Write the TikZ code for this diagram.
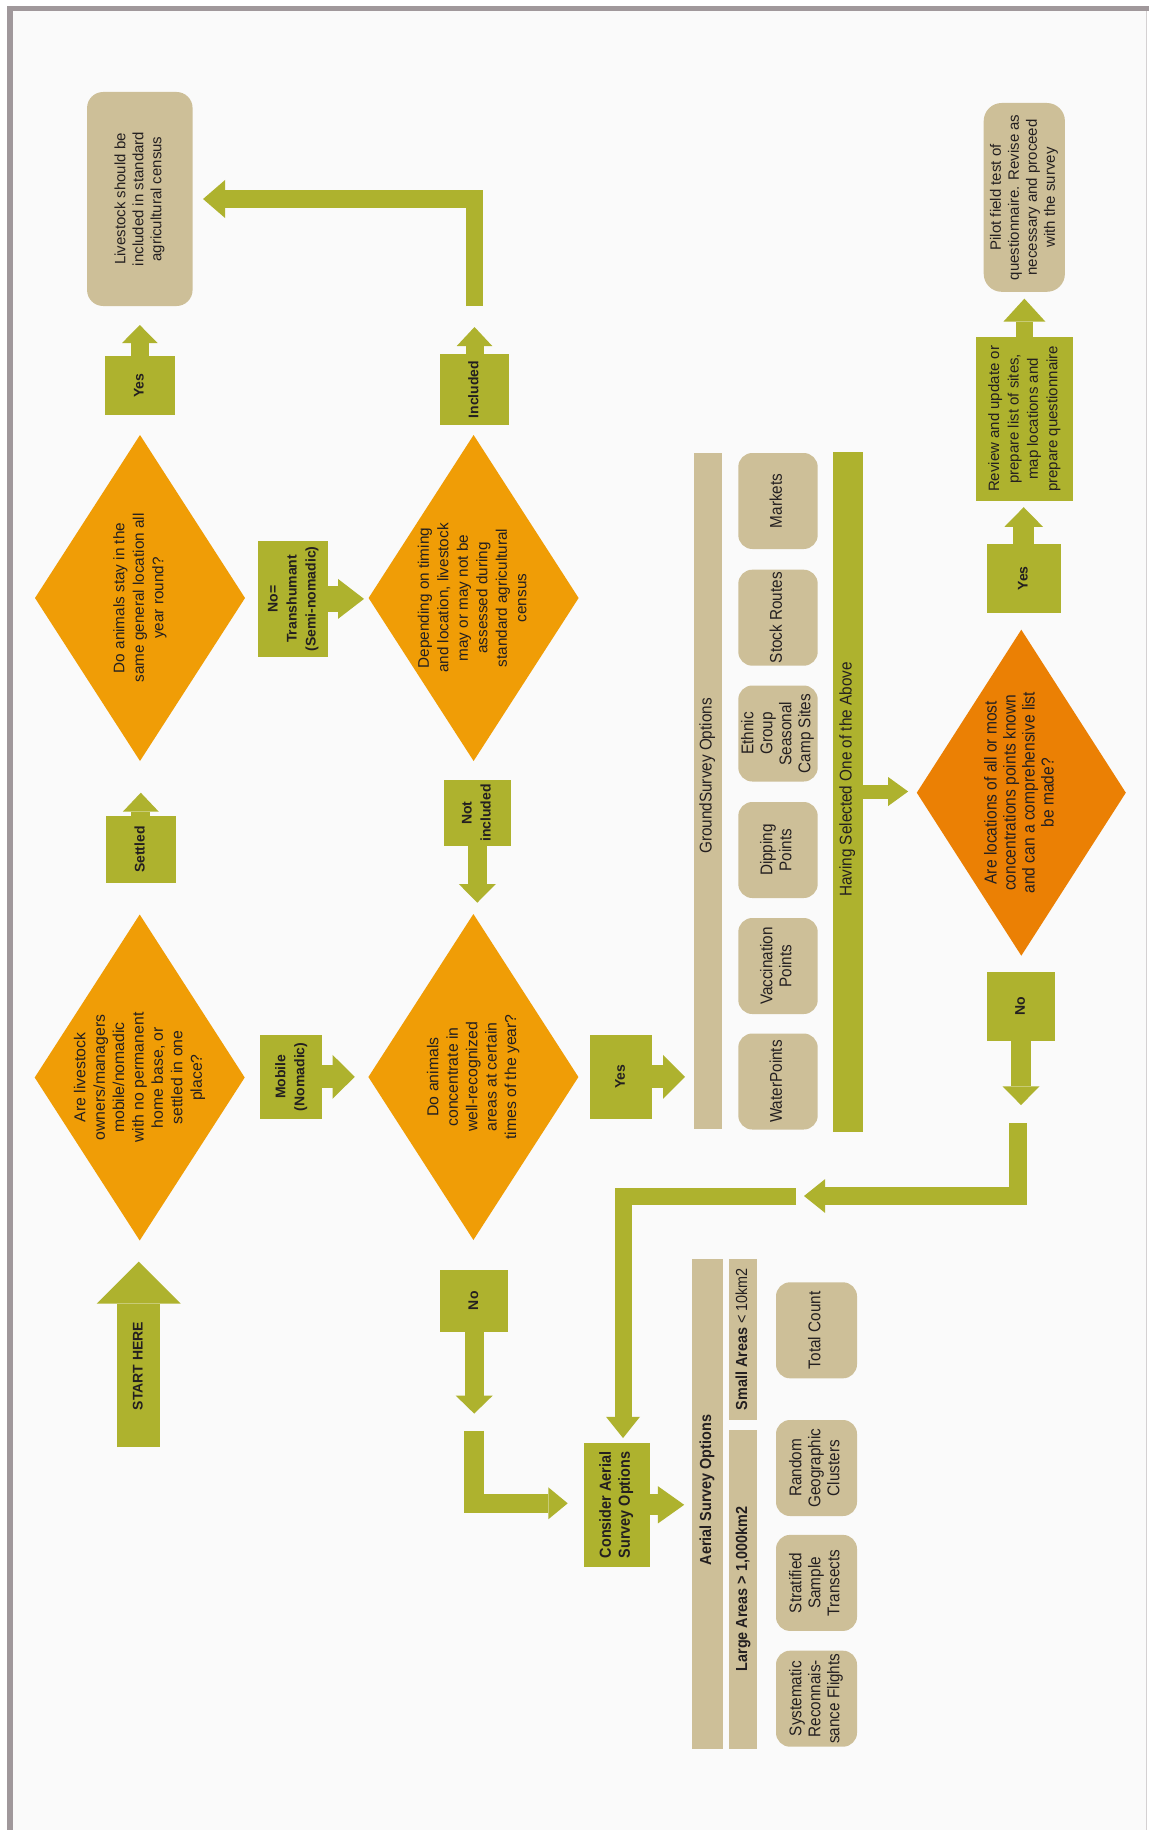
\documentclass[tikz,border=0pt]{standalone}
\usepackage{fontspec}
\usepackage{graphicx}
\setmainfont{Liberation Sans}
\newfontfamily\condensed[FakeStretch=0.9]{Liberation Sans}
\usetikzlibrary{shapes.geometric,arrows.meta,calc}

\definecolor{olivegreen}{RGB}{174,178,46}
\definecolor{amber}{RGB}{240,157,6}
\definecolor{darkamber}{RGB}{235,128,4}
\definecolor{tan}{RGB}{205,191,152}
\definecolor{paper}{RGB}{250,250,250}
\definecolor{framegray}{RGB}{160,152,155}
\definecolor{ink}{RGB}{35,31,32}

% centred lines of text, read from bottom to top
\newcommand\vlines[1]{\rotatebox{90}{\begin{tabular}{@{}c@{}}#1\end{tabular}}}

\begin{document}
\begin{tikzpicture}[x=1pt,y=-1pt,
  every node/.style={inner sep=0pt,outer sep=0pt,text=ink},
  dia/.style={diamond,fill=amber,minimum width=210pt,minimum height=326pt},
  diatext/.style={font=\fontsize{15.3}{19.5}\selectfont},
  gbox/.style={rectangle,fill=olivegreen,font=\bfseries\fontsize{14}{19}\selectfont},
  cbox/.style={rectangle,fill=olivegreen,font=\condensed\bfseries\fontsize{16}{19}\selectfont},
  tbox/.style={rectangle,rounded corners=16pt,fill=tan,font=\fontsize{15}{18}\selectfont},
  optbox/.style={rectangle,rounded corners=14pt,fill=tan,minimum height=96pt,font=\condensed\fontsize{17}{19}\selectfont},
  bar/.style={rectangle,fill=tan},
  barlabel/.style={font=\condensed\fontsize{17}{19}\selectfont},
  boldbarlabel/.style={font=\condensed\bfseries\fontsize{16}{19}\selectfont},
  barrow/.style n args={3}{draw=olivegreen,line width=#1pt,line join=miter,
    -{Triangle[width=#2pt,length=#3pt,line width=0pt]}},
]
\useasboundingbox (0,0) rectangle (1149,1830);

% page and frame
\fill[white] (0,0) rectangle (1149,1830);
\fill[paper] (13,11) rectangle (1146,1830);
\fill[framegray] (7,6) rectangle (1149,11);
\fill[framegray] (7,6) rectangle (13,1830);
\draw[framegray!45,line width=1pt] (1146,11) -- (1146,1830);

% ---------- first column ----------
\node[tbox,minimum width=105.5pt,minimum height=214pt] (live) at (139.8,199)
  {\vlines{Livestock should be\\included in standard\\agricultural census}};
\node[gbox,minimum width=69.6pt,minimum height=59pt] (yes1) at (139.8,385.5) {\vlines{Yes}};
\node[dia] (d1) at (140,598) {};
\node[diatext] (d1t) at (d1)
  {\vlines{Do animals stay in the\\same general location all\\year round?}};
\node[gbox,minimum width=70pt,minimum height=67pt] (settled) at (140.8,849.5) {\vlines{Settled}};
\node[dia] (d3) at (139.7,1077.5) {};
\node[font=\fontsize{15.8}{19.4}\selectfont] (d3t) at (d3)
  {\vlines{Are livestock\\owners/managers\\mobile/nomadic\\with no permanent\\home base, or\\settled in one\\place?}};
\coordinate (startbase) at (138.7,1447);
\draw[barrow={43}{84}{42}] (startbase) -- ++(0,-185.4);
\node[gbox] (start) at (138.7,1366) {\vlines{START HERE}};

% ---------- second column ----------
\node[gbox,minimum width=69.8pt,minimum height=115.7pt] (transh) at (292.9,598.9)
  {\vlines{No=\\Transhumant\\(Semi-nomadic)}};
\node[gbox,minimum width=62pt,minimum height=83.5pt] (mobile) at (291,1076.8)
  {\vlines{Mobile\\(Nomadic)}};

% ---------- third column ----------
\node[gbox,minimum width=69pt,minimum height=71pt] (included) at (474.5,389.5) {\vlines{Included}};
\node[dia] (d2) at (473.6,598) {};
\node[diatext] (d2t) at (d2)
  {\vlines{Depending on timing\\and location, livestock\\may or may not be\\assessed during\\standard agricultural\\census}};
\node[gbox,minimum width=67.4pt,minimum height=66pt] (notinc) at (477.3,813) {\vlines{Not\\included}};
\node[dia] (d4) at (473.4,1077) {};
\node[font=\fontsize{15.8}{19.4}\selectfont] (d4t) at (d4)
  {\vlines{Do animals\\concentrate in\\well-recognized\\areas at certain\\times of the year?}};
\node[gbox,minimum width=68.4pt,minimum height=62pt] (no1) at (474.2,1300.7) {\vlines{No}};

% ---------- fourth column ----------
\node[gbox,minimum width=62pt,minimum height=83.5pt] (yes2) at (621,1076.8) {\vlines{Yes}};
\node[cbox,minimum width=65.8pt,minimum height=123.5pt] (consider) at (616.6,1504.8)
  {\vlines{Consider Aerial\\Survey Options}};

% ---------- ground survey options ----------
\node[bar,minimum width=28.3pt,minimum height=676pt] (ground) at (707.9,791) {};
\node[barlabel] (groundlbl) at ($(ground.center)+(0,-15)$) {\vlines{GroundSurvey Options}};
\node[optbox,minimum width=79.4pt] (markets) at (778,501) {\vlines{Markets}};
\node[optbox,minimum width=79.4pt] (stock) at (778,617.7) {\vlines{Stock Routes}};
\node[optbox,minimum width=79.4pt] (ethnic) at (778,733.5) {\vlines{Ethnic\\Group\\Seasonal\\Camp Sites}};
\node[optbox,minimum width=79.4pt] (dipping) at (778,850) {\vlines{Dipping\\Points}};
\node[optbox,minimum width=79.4pt] (vacc) at (778,966) {\vlines{Vaccination\\Points}};
\node[optbox,minimum width=79.4pt] (water) at (778,1081.5) {\vlines{WaterPoints}};
\node[rectangle,fill=olivegreen,minimum width=29.5pt,minimum height=680pt] (having) at (847.8,791.5) {};
\node[barlabel] (havinglbl) at ($(having.center)+(0,-12)$) {\vlines{Having Selected One of the Above}};

% ---------- aerial survey options ----------
\node[bar,minimum width=30.8pt,minimum height=490pt] (aerial) at (707.4,1503.6) {};
\node[boldbarlabel] (aeriallbl) at ($(aerial.center)+(0,-13.6)$) {\vlines{Aerial Survey Options}};
\node[bar,boldbarlabel,minimum width=28.4pt,minimum height=161.5pt] (small) at (743.2,1339.3)
  {\vlines{Small Areas {\mdseries< 10km2}}};
\node[bar,boldbarlabel,minimum width=28.4pt,minimum height=319pt] (large) at (743.2,1589)
  {\vlines{Large Areas > 1,000km2}};
\node[optbox,minimum width=81pt] (total) at (816.5,1330.3) {\vlines{Total Count}};
\node[optbox,minimum width=81pt] (random) at (816.5,1468) {\vlines{Random\\Geographic\\Clusters}};
\node[optbox,minimum width=81pt] (strat) at (816.5,1582.9) {\vlines{Stratified\\Sample\\Transects}};
\node[optbox,minimum width=81pt] (system) at (816.5,1698.7) {\vlines{Systematic\\Reconnais-\\sance Flights}};

% ---------- right column ----------
\node[tbox,rounded corners=18pt,minimum width=81.2pt,minimum height=188.8pt] (pilot) at (1024.3,197.4)
  {\vlines{Pilot field test of\\questionnaire. Revise as\\necessary and proceed\\with the survey}};
\node[rectangle,fill=olivegreen,font=\fontsize{15}{19.4}\selectfont,minimum width=97.2pt,minimum height=163.7pt]
  (review) at (1024.4,418.9)
  {\vlines{Review and update or\\prepare list of sites,\\map locations and\\prepare questionnaire}};
\node[gbox,minimum width=74pt,minimum height=69.2pt] (yes3) at (1023.7,578.4) {\vlines{Yes}};
\node[dia,fill=darkamber,minimum width=209pt] (d5) at (1021.3,792.7) {};
\node[font=\condensed\fontsize{17.3}{19}\selectfont] (d5t) at (d5)
  {\vlines{Are locations of all or most\\concentrations points known\\and can a comprehensive list\\be made?}};
\node[gbox,minimum width=67.4pt,minimum height=68.3pt] (no3) at (1021,1006.6) {\vlines{No}};

% ---------- block arrows ----------
\draw[barrow={18.6}{35.5}{18}] (yes1.north) -- ++(0,-31);
\draw[barrow={18}{35.5}{19}] (included.north) -- ++(0,-27);
\draw[barrow={17}{38}{22}] (live.south -| included.north) |- ($(live.east)+(10.5,0)$);
\draw[barrow={26.6}{40}{26}] (transh.east) -- ++(36.2,0);
\draw[barrow={19}{36}{19}] (settled.north) -- ++(0,-23.3);
\draw[barrow={18.4}{37}{18.7}] (notinc.south) -- ++(0,56.7);
\draw[barrow={23}{44}{22.3}] (mobile.east) -- ++(32.8,0);
\draw[barrow={23}{44}{22}] (yes2.east) -- ++(33,0);
\draw[barrow={19}{37}{18}] (no1.south) -- ++(0,81.9) coordinate (n1tip);
\draw[barrow={19.5}{32}{19.4}] ($(n1tip)+(0,17.3)$) |- ($(consider.west)+(-16,-1.5)$);
\draw[barrow={21.3}{37.3}{26.3}] (consider.east) -- ++(34.7,0);
\draw[barrow={14}{29}{20}] (having.east) -- ++(45.6,0);
\draw[barrow={21}{38.7}{19.7}] (yes3.north) -- ++(0,-36.6);
\draw[barrow={17}{42}{23}] (review.north) -- ++(0,-38.4);
\draw[barrow={20}{37}{18.7}] (no3.south) -- ++(0,64.3) coordinate (n3tip);
\coordinate (gap) at (800,1196);
\draw[barrow={17.7}{33.7}{21}] ($(n3tip)+(-2.8,18)$) |- ($(gap)+(4,0)$);
\draw[barrow={17}{34}{21.3}] ($(gap)+(-4,0)$) -| ($(consider.north)+(6.4,-5)$);

\end{tikzpicture}
\end{document}
